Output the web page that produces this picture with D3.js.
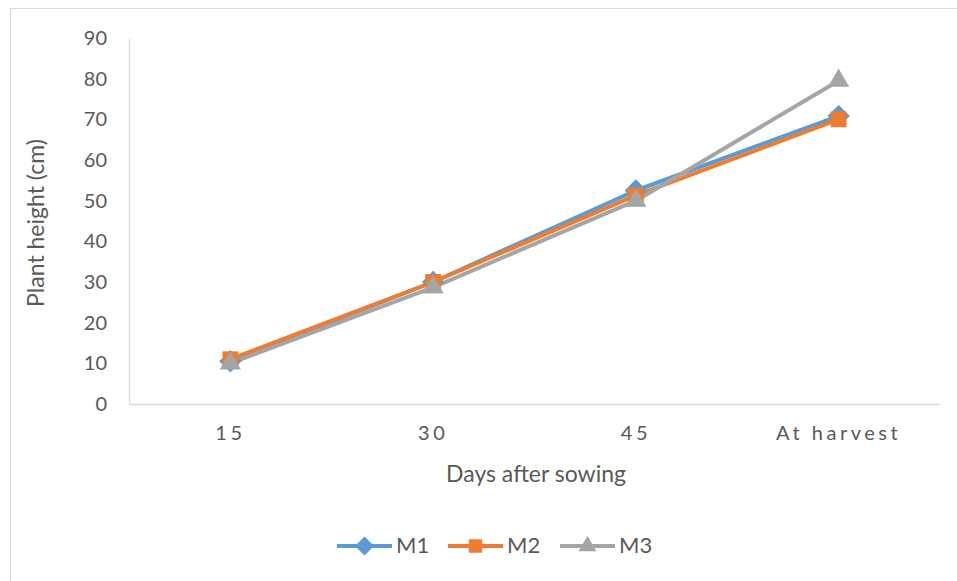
<!DOCTYPE html>
<html>
<head>
<meta charset="utf-8">
<script src="https://cdn.jsdelivr.net/npm/d3@7"></script>
<style>
  html, body { margin: 0; padding: 0; background: #fff; }
  svg { display: block; }
  text { font-family: Lato, "Open Sans", sans-serif; fill: #595959; }
</style>
</head>
<body>
<svg id="chart" width="957" height="581"></svg>
<script>
// Plant height over the growing season for three treatments
const categories = ["15", "30", "45", "At harvest"];
const seriesNames = ["M1", "M2", "M3"];
const m1 = [10.5, 30, 52.5, 70.8];
const m2 = [11, 30, 51.3, 70];
const m3 = [10, 28.7, 50, 79.5];
const yTicks = [0, 10, 20, 30, 40, 50, 60, 70, 80, 90];
const colors = ["#5B9BD5", "#ED7D31", "#A5A5A5"];
const symbols = [d3.symbolDiamond2, d3.symbolSquare2, d3.symbolTriangle2];

const series = seriesNames.map((name, i) => ({
  name, values: [m1, m2, m3][i], color: colors[i], symbol: symbols[i]
}));

const svg = d3.select("#chart");
const plot = { left: 129, right: 940, top: 38, bottom: 404 };

// outer chart frame
svg.append("rect")
  .attr("x", 10.5).attr("y", 8.5)
  .attr("width", 960).attr("height", 600)
  .attr("fill", "none").attr("stroke", "#d9d9d9").attr("stroke-width", 1);

const x = d3.scaleBand().domain(categories).range([plot.left, plot.right]);
const y = d3.scaleLinear().domain([0, 90]).range([plot.bottom, plot.top]);

// y axis
const yAxis = svg.append("g")
  .attr("transform", `translate(${plot.left},0)`)
  .call(d3.axisLeft(y).tickValues(yTicks).tickSize(0).tickPadding(22));
yAxis.select(".domain").attr("stroke", "#d9d9d9").attr("stroke-width", 1.3);
yAxis.selectAll("text").style("font-size", "20px").attr("fill", "#595959");

// x axis
const xAxis = svg.append("g")
  .attr("transform", `translate(0,${plot.bottom})`)
  .call(d3.axisBottom(x).tickSize(0).tickPadding(22));
xAxis.select(".domain").attr("stroke", "#d9d9d9").attr("stroke-width", 1.3);
xAxis.selectAll("text").style("font-size", "20px").style("letter-spacing", "3.5px").attr("fill", "#595959");

// axis titles
svg.append("text")
  .attr("transform", `translate(38,${(plot.top + plot.bottom) / 2 + 2}) rotate(-90)`)
  .attr("text-anchor", "middle").attr("dominant-baseline", "middle")
  .style("font-size", "23px").text("Plant height (cm)");
svg.append("text")
  .attr("x", 536).attr("y", 476)
  .attr("text-anchor", "middle").attr("dominant-baseline", "middle")
  .style("font-size", "23px").text("Days after sowing");

// lines and markers
const line = d3.line()
  .x((d, i) => x(categories[i]) + x.bandwidth() / 2)
  .y(d => y(d));

series.forEach(s => {
  svg.append("path")
    .datum(s.values)
    .attr("d", line)
    .attr("fill", "none")
    .attr("stroke", s.color)
    .attr("stroke-width", 4)
    .attr("stroke-linejoin", "round");
});
series.forEach(s => {
  svg.append("g").selectAll("path")
    .data(s.values)
    .join("path")
    .attr("transform", (d, i) => `translate(${x(categories[i]) + x.bandwidth() / 2},${y(d)})`)
    .attr("d", d3.symbol().type(s.symbol).size(320))
    .attr("fill", s.color);
});

// legend
const legendX = [337, 448, 560];
const legend = svg.append("g");
series.forEach((s, i) => {
  const g = legend.append("g").attr("transform", `translate(${legendX[i]},546)`);
  g.append("line").attr("x1", 0).attr("x2", 55).attr("y1", 0).attr("y2", 0)
    .attr("stroke", s.color).attr("stroke-width", 4);
  g.append("path").attr("transform", "translate(27.5,0)")
    .attr("d", d3.symbol().type(s.symbol).size(230)).attr("fill", s.color);
  g.append("text").attr("x", 59).attr("y", 1)
    .attr("dominant-baseline", "middle")
    .style("font-size", "22px").text(s.name);
});
</script>
</body>
</html>
